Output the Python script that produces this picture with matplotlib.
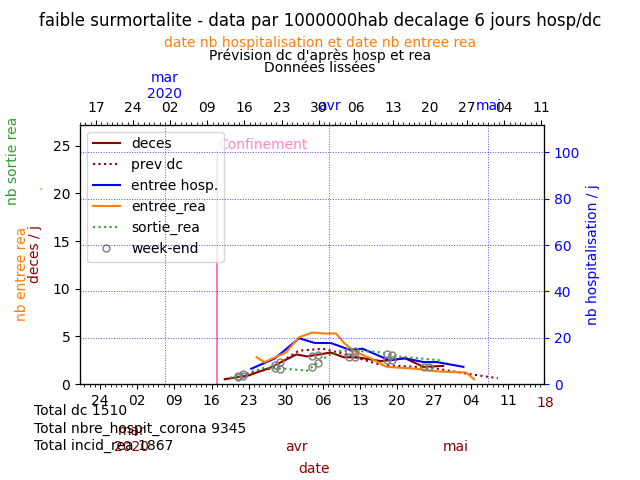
import matplotlib
matplotlib.use("Agg")
import matplotlib.pyplot as plt
import matplotlib.transforms as mtrans
from matplotlib.ticker import FixedLocator, MultipleLocator, FuncFormatter
import datetime as dt
import numpy as np

BASE = dt.date(2020, 3, 1)  # day 0
# days since 1 March 2020 (bottom date axis), values per 1,000,000 inhabitants
deces_d = [17.5, 22, 26, 31, 33, 37.5, 40, 42.5, 47, 51.5, 55, 58.7]
deces_v = [0.5, 0.9, 1.7, 3.1, 2.9, 3.3, 2.8, 2.8, 2.4, 2.7, 1.8, 1.9]
prev_d = [17.5, 26, 31.5, 36, 39, 47, 56.5, 63, 69]
prev_v = [0.5, 1.6, 3.5, 3.7, 3.3, 2.0, 1.7, 1.1, 0.6]
hosp_d = [22.5, 27, 31.5, 34.5, 37.5, 41, 43.5, 48.5, 51.5, 55, 57.5, 62.5]
hosp_v = [1.6, 2.7, 4.8, 4.3, 4.3, 3.6, 3.7, 2.5, 2.7, 2.3, 2.3, 1.8]
rea_d = [23.5, 25, 29, 31.5, 34, 36.5, 38.5, 40, 42, 45, 48, 53.5, 58, 63, 64.5]
rea_v = [2.8, 2.3, 3.3, 4.9, 5.4, 5.3, 5.3, 4.3, 3.4, 2.7, 1.8, 1.6, 1.3, 1.2, 0.5]
sort_d = [18.6, 25, 29, 33, 37, 39.5, 46, 50, 58]
sort_v = [0.6, 1.7, 1.6, 1.4, 3.0, 3.5, 3.4, 2.9, 2.5]
weekend_days = [20, 21, 27, 28, 34, 35, 41, 42, 48, 49, 55, 56]
totals = ["Total dc 1510", "Total nbre_hospit_corona 9345", "Total incid_rea 1867"]
CONF_DAY = 16

DRED = "#8b0000"
fig = plt.figure(figsize=(6.4, 4.8), dpi=100)
ax = fig.add_axes([0.125, 0.2, 0.725, 0.54])
ax.set_xlim(-9.8, 77.7)
ax.set_ylim(0, 27.2)

ax.plot(deces_d, deces_v, color=DRED, lw=1.5, label="deces")
ax.plot(prev_d, prev_v, color=DRED, lw=1.5, ls=":", label="prev dc")
ax.plot(hosp_d, hosp_v, color="blue", lw=1.5, label="entree hosp.")
ax.plot(rea_d, rea_v, color="#ff7f0e", lw=1.5, label="entree_rea")
ax.plot(sort_d, sort_v, color="#2ca02c", lw=1.5, ls=":", label="sortie_rea")
wd = np.array(weekend_days, float)
wx = np.concatenate([wd, wd[wd < 50]])
wy = np.concatenate([np.interp(wd, deces_d, deces_v), np.interp(wd[wd < 50], sort_d, sort_v)])
ax.plot(wx, wy, "o", mfc="none", mec="gray", ms=5, label="week-end")
ax.axvline(CONF_DAY, color="#ff69b4", lw=1.3, ymax=0.9)
ax.text(CONF_DAY + 0.3, 24.7, "Confinement", color="#ff69b4", fontsize=10, alpha=0.8)
ax.legend(loc="upper left", fontsize=10, framealpha=0.8)

def fmt(x, pos):
    return (BASE + dt.timedelta(days=int(round(x)))).strftime("%d")

ax.xaxis.set_major_locator(FixedLocator([-6 + 7 * i for i in range(13)]))
ax.xaxis.set_minor_locator(MultipleLocator(1))
ax.xaxis.set_major_formatter(FuncFormatter(fmt))
ax.yaxis.set_major_locator(MultipleLocator(5))
ax.tick_params(labelsize=10)
tr = mtrans.blended_transform_factory(ax.transData, fig.transFigure)
for d, s in [(0, "mar\n2020"), (31, "avr"), (61, "mai")]:
    ax.text(d, 0.06, s, transform=tr, color=DRED, ha="center", fontsize=10)
ax.text(78, 0.152, "18", transform=tr, color=DRED, ha="center", fontsize=10)
fig.text(0.49, 0.015, "date", color=DRED, ha="center", fontsize=10)

ax.set_ylabel("deces / j", color=DRED, fontsize=10, labelpad=8)
fig.text(0.035, 0.43, "nb entree rea", color="#ff7f0e", rotation=90, ha="center", va="center", fontsize=10)
fig.text(0.02, 0.665, "nb sortie rea", color="#2ca02c", rotation=90, ha="center", va="center", fontsize=10)
fig.text(0.06, 0.605, ".", color="#ff7f0e", fontsize=10)

ax2 = ax.twinx()
ax2.set_ylim(0, 27.2 * 4.115)
ax2.yaxis.set_major_locator(MultipleLocator(20))
ax2.tick_params(colors="blue", labelsize=10)
ax2.set_ylabel("nb hospitalisation / j", color="blue", fontsize=10)
ax2.grid(True, color="blue", ls=":", lw=0.7, alpha=0.7)

ax3 = ax.twiny()
ax3.set_xlim(-16, 71.5)
ax3.xaxis.set_major_locator(FixedLocator([-13 + 7 * i for i in range(13)]))
ax3.xaxis.set_minor_locator(MultipleLocator(1))
ax3.xaxis.set_major_formatter(FuncFormatter(fmt))
ax3.tick_params(labelsize=10)
for d in [0, 31, 61]:
    ax3.axvline(d, color="blue", ls=":", lw=0.7, alpha=0.7)
tr3 = mtrans.blended_transform_factory(ax3.transData, fig.transFigure)
for d, s, y in [(0, "mar\n2020", 0.795), (31, "avr", 0.77), (61, "mai", 0.77)]:
    ax3.text(d, y, s, transform=tr3, color="blue", ha="center", fontsize=10)

for i, t in enumerate(totals):
    fig.text(0.053, 0.135 - i * 0.036, t, fontsize=10)

fig.text(0.5, 0.945, "faible surmortalite - data par 1000000hab decalage 6 jours hosp/dc", ha="center", fontsize=12)
fig.text(0.5, 0.903, "date nb hospitalisation et date nb entree rea", ha="center", color="#ff7f0e", fontsize=10)
fig.text(0.5, 0.876, "Prévision dc d'après hosp et rea", ha="center", fontsize=10)
fig.text(0.5, 0.849, "Données lissées", ha="center", fontsize=10)
fig.savefig("out.png", dpi=100)
